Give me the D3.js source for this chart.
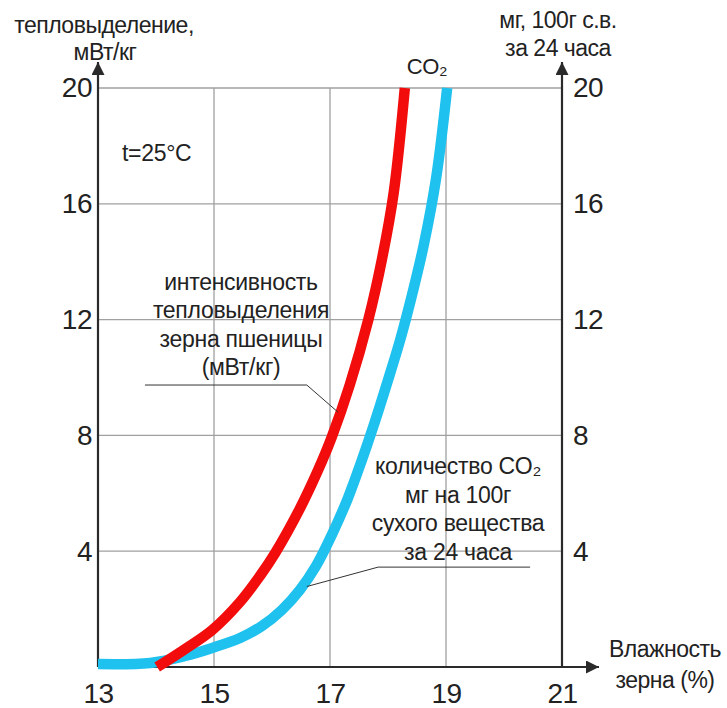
<!DOCTYPE html>
<html><head><meta charset="utf-8">
<script src="https://cdn.jsdelivr.net/npm/d3@7"></script>
<style>
body{margin:0;background:#fff;}
text{font-family:"Liberation Sans",Arial,sans-serif;fill:#222;}
</style></head><body>
<svg id="c" width="727" height="708"></svg>
<script>
// Data (x = влажность зерна %, y = value)
const xTicks = [13, 15, 17, 19, 21];
const yTicks = [4, 8, 12, 16, 20];
const heatX = [14.02, 14.50, 14.97, 15.45, 15.79, 16.05, 16.48, 16.79, 17.03, 17.34, 17.66, 17.90, 18.10, 18.29];
const heatY = [0, 0.62, 1.28, 2.25, 3.14, 3.92, 5.47, 6.78, 7.94, 9.74, 11.99, 14.13, 16.41, 20];
const co2X = [13.00, 13.90, 14.50, 14.97, 15.45, 15.83, 16.17, 16.48, 16.76, 17.03, 17.31, 17.55, 17.76, 18.00, 18.21, 18.41, 18.62, 18.83, 19.02];
const co2Y = [0.10, 0.14, 0.38, 0.66, 1.00, 1.42, 1.97, 2.66, 3.49, 4.56, 5.84, 7.15, 8.39, 9.91, 11.30, 12.82, 14.61, 16.89, 20];
const heatLabel = ["интенсивность", "тепловыделения", "зерна пшеницы", "(мВт/кг)"];
const co2Label = ["количество CO₂", "мг на 100г", "сухого вещества", "за 24 часа"];

const svg = d3.select("#c");
const x = d3.scaleLinear().domain([13, 21]).range([98, 562]);
const y = d3.scaleLinear().domain([0, 20]).range([667, 88]);
const gridCol = "#a0a0a0", axisCol = "#2a2a2a";

// grid
svg.append("g").selectAll("line").data(yTicks).join("line")
  .attr("x1", x(13)).attr("x2", x(21)).attr("y1", d => y(d)).attr("y2", d => y(d))
  .attr("stroke", gridCol).attr("stroke-width", 1.3);
svg.append("g").selectAll("line").data(xTicks.slice(1, -1)).join("line")
  .attr("x1", d => x(d)).attr("x2", d => x(d)).attr("y1", y(0)).attr("y2", y(20))
  .attr("stroke", gridCol).attr("stroke-width", 1.3);

// arrow marker
svg.append("defs").append("marker").attr("id", "arr").attr("viewBox", "0 0 10 10")
  .attr("refX", 10).attr("refY", 5).attr("markerWidth", 13).attr("markerHeight", 13)
  .attr("markerUnits", "userSpaceOnUse").attr("orient", "auto")
  .append("path").attr("d", "M0,0 L10,5 L0,10 Z").attr("fill", axisCol);

// axes lines
svg.append("line").attr("x1", x(13)).attr("x2", x(13)).attr("y1", y(0)).attr("y2", 62)
  .attr("stroke", axisCol).attr("stroke-width", 2.2).attr("marker-end", "url(#arr)");
svg.append("line").attr("x1", x(21)).attr("x2", x(21)).attr("y1", y(0)).attr("y2", 62)
  .attr("stroke", axisCol).attr("stroke-width", 2.2).attr("marker-end", "url(#arr)");
svg.append("line").attr("x1", x(13)).attr("x2", 599).attr("y1", y(0)).attr("y2", y(0))
  .attr("stroke", axisCol).attr("stroke-width", 2.2).attr("marker-end", "url(#arr)");

// tick labels via axes
const tickStyle = g => { g.select(".domain").remove(); g.selectAll("line").remove();
  g.selectAll("text").attr("font-size", 28).attr("fill", "#222").attr("letter-spacing", -0.5)
   .attr("font-family", "Liberation Sans, Arial, sans-serif"); };
svg.append("g").attr("transform", `translate(${x(13)},0)`)
  .call(d3.axisLeft(y).tickValues(yTicks).tickSize(0).tickPadding(6)).call(tickStyle);
svg.append("g").attr("transform", `translate(${x(21)},0)`)
  .call(d3.axisRight(y).tickValues(yTicks).tickSize(0).tickPadding(11)).call(tickStyle);
svg.append("g").attr("transform", `translate(0,${y(0)})`)
  .call(d3.axisBottom(x).tickValues(xTicks).tickSize(0).tickPadding(16)).call(tickStyle);

// curves
const line = d3.line().x(d => x(d[0])).y(d => y(d[1])).curve(d3.curveCatmullRom.alpha(0.5));
svg.append("path").attr("d", line(d3.zip(co2X, co2Y))).attr("fill", "none")
  .attr("stroke", "#1fc1ee").attr("stroke-width", 10.5);
svg.append("path").attr("d", line(d3.zip(heatX, heatY))).attr("fill", "none")
  .attr("stroke", "#f20c0c").attr("stroke-width", 10.5);

// leader lines (data units)
const lead = d3.line().x(d => x(d[0])).y(d => y(d[1]));
svg.append("path").attr("d", lead([[13.81, 9.74], [16.6, 9.74], [17.14, 8.8]]))
  .attr("fill", "none").attr("stroke", "#333").attr("stroke-width", 1);
svg.append("path").attr("d", lead([[20.45, 3.45], [17.83, 3.45], [16.6, 2.78]]))
  .attr("fill", "none").attr("stroke", "#333").attr("stroke-width", 1);

// annotation texts
const ann = (lines, cx, y0, step) => svg.append("g").selectAll("text").data(lines).join("text")
  .attr("x", cx).attr("y", (d, i) => y0 + i * step).attr("text-anchor", "middle")
  .attr("dominant-baseline", "middle").attr("font-size", 23).attr("letter-spacing", -0.3).text(d => d);
ann(heatLabel, 241, 284, 28.3);
ann(co2Label, 458, 468, 28.5);

svg.append("text").attr("x", 122).attr("y", 155).attr("dominant-baseline", "middle")
  .attr("font-size", 23).attr("letter-spacing", -0.3).text("t=25°C");
svg.append("text").attr("x", 427).attr("y", 68).attr("text-anchor", "middle")
  .attr("dominant-baseline", "middle").attr("font-size", 22).attr("letter-spacing", -0.3).text("CO₂");

// axis titles
const title = (lines, cx, y0, step) => svg.append("g").selectAll("text").data(lines).join("text")
  .attr("x", (d, i) => cx[i]).attr("y", (d, i) => y0 + i * step).attr("text-anchor", "middle")
  .attr("dominant-baseline", "middle").attr("font-size", 23).attr("letter-spacing", -0.5).text(d => d);
title(["тепловыделение,", "мВт/кг"], [104, 105], 27, 27);
title(["мг, 100г с.в.", "за 24 часа"], [558, 558], 22, 28);
title(["Влажность", "зерна (%)"], [665, 665], 651, 31);
</script></body></html>
